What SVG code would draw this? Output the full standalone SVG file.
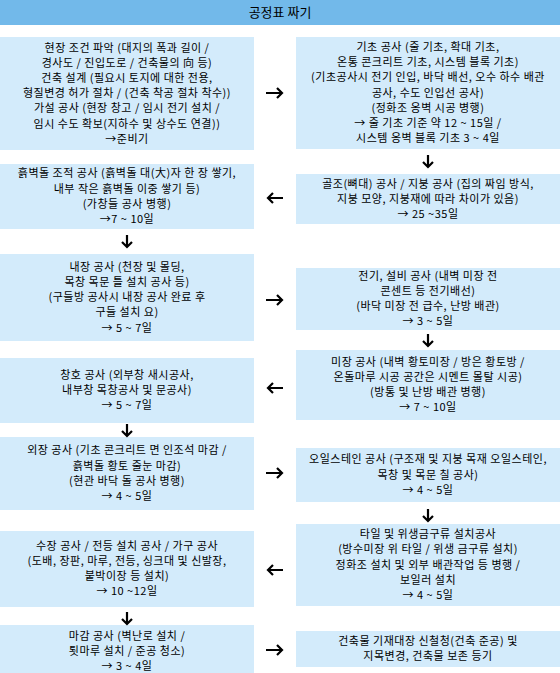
<svg xmlns="http://www.w3.org/2000/svg" width="560" height="673" viewBox="0 0 560 673">
<style>
.box{fill:#d3ebfb}
.t{font-family:"Noto Sans CJK KR","Noto Sans",sans-serif;font-size:11px;letter-spacing:0.5px;fill:#000;text-anchor:middle}
.h{font-family:"Noto Sans CJK KR","Noto Sans",sans-serif;font-size:13px;fill:#000;text-anchor:middle}
.arr{fill:none;stroke:#000;stroke-width:2.2;stroke-linecap:butt;stroke-linejoin:miter}
</style>
<rect width="560" height="673" fill="#fff"/>
<g id="header"><rect x="0" y="0" width="560" height="25" fill="#72b9ea"/><text class="h" x="280" y="17">공정표 짜기</text></g>

<g id="L1"><rect class="box" x="0" y="37" width="254" height="113"/>
<text class="t" x="127" y="51.5"><tspan x="127">현장 조건 파악 (대지의 폭과 길이 /</tspan><tspan x="127" dy="15.2">경사도 / 진입도로 / 건축물의 向 등)</tspan><tspan x="127" dy="15.2">건축 설계 (필요시 토지에 대한 전용,</tspan><tspan x="127" dy="15.2">형질변경 허가 절차 / (건축 착공 절차 착수))</tspan><tspan x="127" dy="15.2">가설 공사 (현장 창고 / 임시 전기 설치 /</tspan><tspan x="127" dy="15.2">임시 수도 확보(지하수 및 상수도 연결))</tspan><tspan x="127" dy="15.2">→준비기</tspan></text></g>

<g id="R1"><rect class="box" x="296" y="37" width="264" height="112"/>
<text class="t" x="428" y="51"><tspan x="428">기초 공사 (줄 기초, 확대 기초,</tspan><tspan x="428" dy="15.2">온통 콘크리트 기초, 시스템 블록 기초)</tspan><tspan x="428" dy="15.2">(기초공사시 전기 인입, 바닥 배선, 오수 하수 배관</tspan><tspan x="428" dy="15.2">공사, 수도 인입선 공사)</tspan><tspan x="428" dy="15.2">(정화조 옹벽 시공 병행)</tspan><tspan x="428" dy="15.2">→ 줄 기초 기준 약 12 ~ 15일 /</tspan><tspan x="428" dy="15.2">시스템 옹벽 블록 기초 3 ~ 4일</tspan></text></g>

<g id="R2"><rect class="box" x="296" y="174" width="264" height="50"/>
<text class="t" x="428" y="187.5"><tspan x="428">골조(뼈대) 공사 / 지붕 공사 (집의 짜임 방식,</tspan><tspan x="428" dy="15.2">지붕 모양, 지붕재에 따라 차이가 있음)</tspan><tspan x="428" dy="15.2">→ 25 ~35일</tspan></text></g>

<g id="L2"><rect class="box" x="0" y="164" width="254" height="65"/>
<text class="t" x="127" y="177.3"><tspan x="127">흙벽돌 조적 공사 (흙벽돌 대(大)자 한 장 쌓기,</tspan><tspan x="127" dy="15.2">내부 작은 흙벽돌 이중 쌓기 등)</tspan><tspan x="127" dy="15.2">(가창들 공사 병행)</tspan><tspan x="127" dy="15.2">→7 ~ 10일</tspan></text></g>

<g id="L3"><rect class="box" x="0" y="254" width="254" height="87"/>
<text class="t" x="127" y="270.7"><tspan x="127">내장 공사 (천장 및 몰딩,</tspan><tspan x="127" dy="15.2">목창 목문 틀 설치 공사 등)</tspan><tspan x="127" dy="15.2">(구들방 공사시 내장 공사 완료 후</tspan><tspan x="127" dy="15.2">구들 설치 요)</tspan><tspan x="127" dy="15.2">→ 5 ~ 7일</tspan></text></g>

<g id="R3"><rect class="box" x="296" y="268" width="264" height="62"/>
<text class="t" x="428" y="279.8"><tspan x="428">전기, 설비 공사 (내벽 미장 전</tspan><tspan x="428" dy="15.2">콘센트 등 전기배선)</tspan><tspan x="428" dy="15.2">(바닥 미장 전 급수, 난방 배관)</tspan><tspan x="428" dy="15.2">→ 3 ~ 5일</tspan></text></g>

<g id="R4"><rect class="box" x="296" y="350" width="264" height="70"/>
<text class="t" x="428" y="365.8"><tspan x="428">미장 공사 (내벽 황토미장 / 방은 황토방 /</tspan><tspan x="428" dy="15.2">온돌마루 시공 공간은 시멘트 몰탈 시공)</tspan><tspan x="428" dy="15.2">(방통 및 난방 배관 병행)</tspan><tspan x="428" dy="15.2">→ 7 ~ 10일</tspan></text></g>

<g id="L4"><rect class="box" x="0" y="358" width="254" height="65"/>
<text class="t" x="127" y="378.9"><tspan x="127">창호 공사 (외부창 새시공사,</tspan><tspan x="127" dy="15.2">내부창 목창공사 및 문공사)</tspan><tspan x="127" dy="15.2">→ 5 ~ 7일</tspan></text></g>

<g id="L5"><rect class="box" x="0" y="437" width="254" height="73"/>
<text class="t" x="127" y="454.3"><tspan x="127">외장 공사 (기초 콘크리트 면 인조석 마감 /</tspan><tspan x="127" dy="15.2">흙벽돌 황토 줄눈 마감)</tspan><tspan x="127" dy="15.2">(현관 바닥 돌 공사 병행)</tspan><tspan x="127" dy="15.2">→ 4 ~ 5일</tspan></text></g>

<g id="R5"><rect class="box" x="296" y="448" width="264" height="54"/>
<text class="t" x="428" y="463.4"><tspan x="428">오일스테인 공사 (구조재 및 지붕 목재 오일스테인,</tspan><tspan x="428" dy="15.2">목창 및 목문 칠 공사)</tspan><tspan x="428" dy="15.2">→ 4 ~ 5일</tspan></text></g>

<g id="R6"><rect class="box" x="296" y="524" width="264" height="82"/>
<text class="t" x="428" y="538.2"><tspan x="428">타일 및 위생금구류 설치공사</tspan><tspan x="428" dy="15.2">(방수미장 위 타일 / 위생 금구류 설치)</tspan><tspan x="428" dy="15.2">정화조 설치 및 외부 배관작업 등 병행 /</tspan><tspan x="428" dy="15.2">보일러 설치</tspan><tspan x="428" dy="15.2">→ 4 ~ 5일</tspan></text></g>

<g id="L6"><rect class="box" x="0" y="531" width="254" height="76"/>
<text class="t" x="127" y="549.8"><tspan x="127">수장 공사 / 전등 설치 공사 / 가구 공사</tspan><tspan x="127" dy="15.2">(도배, 장판, 마루, 전등, 싱크대 및 신발장,</tspan><tspan x="127" dy="15.2">붙박이장 등 설치)</tspan><tspan x="127" dy="15.2">→ 10 ~12일</tspan></text></g>

<g id="L7"><rect class="box" x="0" y="625" width="254" height="48"/>
<text class="t" x="127" y="639.6"><tspan x="127">마감 공사 (벽난로 설치 /</tspan><tspan x="127" dy="15.2">툇마루 설치 / 준공 청소)</tspan><tspan x="127" dy="15.2">→ 3 ~ 4일</tspan></text></g>

<g id="R7"><rect class="box" x="296" y="631" width="264" height="36"/>
<text class="t" x="428" y="645"><tspan x="428">건축물 기재대장 신철청(건축 준공) 및</tspan><tspan x="428" dy="15.2">지목변경, 건축물 보존 등기</tspan></text></g>

<g id="connectors">
<path class="arr" d="M266 93H282M277 88L282 93L277 98"/>
<path class="arr" d="M428 155V167M423 162L428 167L433 162"/>
<path class="arr" d="M283 198H268M273 193L268 198L273 203"/>
<path class="arr" d="M127 235V247M122 242L127 247L132 242"/>
<path class="arr" d="M266 300H282M277 295L282 300L277 305"/>
<path class="arr" d="M428 334V346M423 341L428 346L433 341"/>
<path class="arr" d="M283 388H268M273 383L268 388L273 393"/>
<path class="arr" d="M127 424V436M122 431L127 436L132 431"/>
<path class="arr" d="M266 473H282M277 468L282 473L277 478"/>
<path class="arr" d="M428 509V521M423 516L428 521L433 516"/>
<path class="arr" d="M283 570H268M273 565L268 570L273 575"/>
<path class="arr" d="M127 612V624M122 619L127 624L132 619"/>
<path class="arr" d="M266 650H282M277 645L282 650L277 655"/>
</g>
</svg>
